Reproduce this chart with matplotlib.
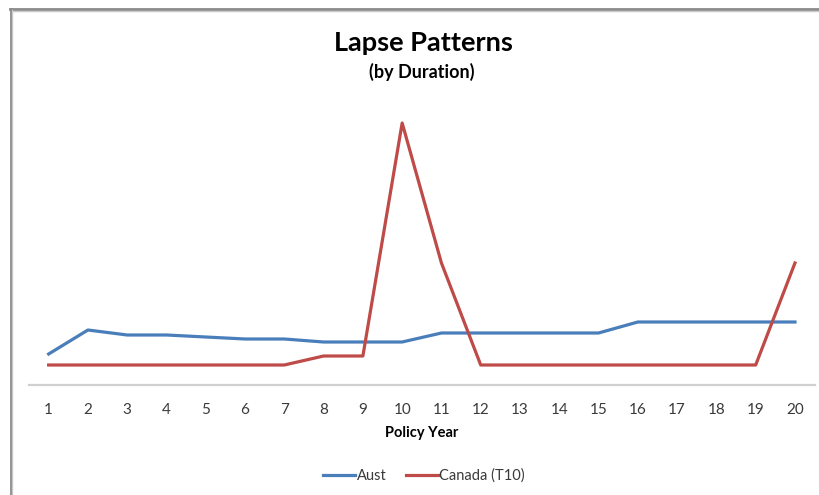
import matplotlib
matplotlib.use("Agg")
import matplotlib.pyplot as plt
from matplotlib.lines import Line2D

years = list(range(1, 21))
aust = [3.1, 5.5, 5.0, 5.0, 4.8, 4.6, 4.6, 4.3, 4.3, 4.3,
        5.2, 5.2, 5.2, 5.2, 5.2, 6.3, 6.3, 6.3, 6.3, 6.3]
canada = [2.0, 2.0, 2.0, 2.0, 2.0, 2.0, 2.0, 2.9, 2.9, 26.2,
          12.2, 2.0, 2.0, 2.0, 2.0, 2.0, 2.0, 2.0, 2.0, 12.2]
series_names = ["Aust", "Canada (T10)"]
colors = ["#4A7EBB", "#BE4B48"]

plt.rcParams['font.family'] = ['Lato', 'DejaVu Sans']

W, H = 820, 495
fig = plt.figure(figsize=(W / 100, H / 100), dpi=100)
fig.patch.set_facecolor("white")

def fx(px):
    return px / W

def fy(py):
    return 1 - py / H

ax = fig.add_axes([fx(29), fy(385), fx(814.6) - fx(29), fy(85) - fy(385)])
ax.plot(years, aust, color=colors[0], lw=2.3, solid_joinstyle='round', label=series_names[0])
ax.plot(years, canada, color=colors[1], lw=2.3, solid_joinstyle='round', label=series_names[1])
ax.set_xlim(0.5, 20.5)
ax.set_ylim(0, 30)
ax.set_yticks([])
ax.set_xticks(years)
ax.set_xticklabels([str(y) for y in years], fontsize=11, color="#3a3a3a")
ax.tick_params(axis='x', length=0, pad=13)
for s in ['top', 'right', 'left']:
    ax.spines[s].set_visible(False)
ax.spines['bottom'].set_color('#D0D0D0')
ax.spines['bottom'].set_linewidth(1.6)
ax.set_facecolor('none')

fig.text(fx(423), fy(43), "Lapse Patterns", ha='center', va='center',
         fontsize=19.5, fontweight='bold', color='black')
fig.text(fx(422), fy(72), "(by Duration)", ha='center', va='center',
         fontsize=13, fontweight='bold', color='black')
fig.text(fx(422), fy(433), "Policy Year", ha='center', va='center',
         fontsize=10.5, fontweight='bold', color='black')

handles = [Line2D([], [], color=c, lw=2.3) for c in colors]
fig.legend(handles, series_names, loc='center', bbox_to_anchor=(fx(424), fy(476)),
           ncol=2, frameon=False, fontsize=10.5, handlelength=2.2, handletextpad=0.1,
           columnspacing=1.3, labelcolor="#3a3a3a")

# outer frame (top and left edges)
fig.add_artist(Line2D([fx(10), 1], [fy(9), fy(9)], color='#8a8a8a', lw=2.0))
fig.add_artist(Line2D([fx(11), 1], [fy(10.5), fy(10.5)], color='#c8c8c8', lw=1.0))
fig.add_artist(Line2D([fx(11), fx(11)], [fy(9), 0], color='#8a8a8a', lw=2.0))
fig.add_artist(Line2D([fx(12.5), fx(12.5)], [fy(10), 0], color='#c8c8c8', lw=1.0))

fig.savefig("out.png", dpi=100)
